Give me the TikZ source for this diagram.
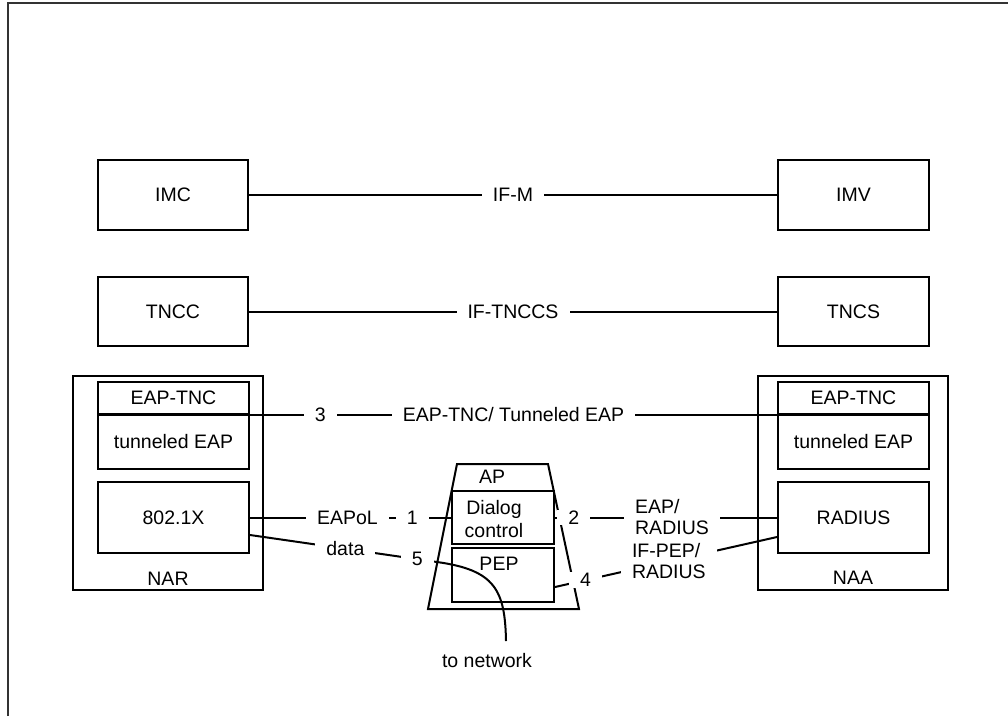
\documentclass[tikz,border=0pt]{standalone}
\usepackage{fontspec}
\setmainfont{Liberation Sans}
\begin{document}
\begin{tikzpicture}[x=1pt,y=-1pt,
  every node/.style={font=\fontsize{19.5}{21}\selectfont},
  box/.style={draw, line width=2pt, rectangle, inner sep=0pt},
  lbl/.style={fill=white, inner xsep=11pt, inner ysep=1pt},
  conn/.style={line width=2pt}
]
\useasboundingbox (0,0) rectangle (1008,716);
\draw[line width=2.4pt, black!80] (8,716) -- (8,3) -- (1008,3);

% top boxes
\node[box, minimum width=150pt, minimum height=70pt] (imc) at (173,195) {IMC};
\node[box, minimum width=151pt, minimum height=70pt] (imv) at (853.5,195) {IMV};
\node[box, minimum width=150pt, minimum height=69pt] (tncc) at (173,311.5) {TNCC};
\node[box, minimum width=151pt, minimum height=69pt] (tncs) at (853.5,311.5) {TNCS};

% NAR
\node[box, minimum width=190pt, minimum height=214pt] (nar) at (168,483) {};
\node (narl) at (168,579) {NAR};
\node[box, minimum width=151pt, minimum height=32pt] (eapL) at (173.5,398) {EAP-TNC};
\node[box, minimum width=151pt, minimum height=55pt] (tunL) at (173.5,441.5) {tunneled EAP};
\node[box, minimum width=151pt, minimum height=71pt] (dot1x) at (173.5,517.5) {802.1X};

% NAA
\node[box, minimum width=190pt, minimum height=214pt] (naa) at (853,483) {};
\node (naal) at (853,578) {NAA};
\node[box, minimum width=151pt, minimum height=32pt] (eapR) at (853.5,398) {EAP-TNC};
\node[box, minimum width=151pt, minimum height=55pt] (tunR) at (853.5,441.5) {tunneled EAP};
\node[box, minimum width=151pt, minimum height=71pt] (radius) at (853.5,517.5) {RADIUS};

% AP
\draw[line width=2pt] (457,464) -- (548,464) -- (579,609) -- (428,609) -- cycle;
\node (apl) at (492,477) {AP};
\node[box, minimum width=102pt, minimum height=53pt] (dialog) at (503,517.5) {};
\node[align=center, font=\fontsize{19.5}{23.5}\selectfont] (dialogl) at (494,519) {Dialog\\control};
\node[box, minimum width=102pt, minimum height=54pt] (pep) at (503,575) {};
\node (pepl) at (499,564) {PEP};

\node (tonet) at (487,661) {to network};
\coordinate (apedge) at (437,562);
\coordinate (netend) at (506,641);

% connectors
\draw[conn] (imc.east) -- node[lbl, pos=0.5] {IF-M} (imv.west);
\draw[conn] (tncc.east) -- node[lbl, pos=0.5] {IF-TNCCS} (tncs.west);
\draw[conn] (eapL.south west) -- node[lbl, pos=0.268] {3}
  node[lbl, pos=0.5] {EAP-TNC/ Tunneled EAP} (eapR.south east);
\draw[conn] (dot1x.east) -- node[lbl, pos=0.485] {EAPoL}
  node[lbl, pos=0.808] {1} (dialog.west);
\draw[conn] (dialog.east) -- node[lbl, pos=0.085] {2}
  node[lbl, pos=0.527, align=left] {EAP/\\RADIUS} (radius.west);
\draw[conn] ([yshift=-12pt]pep.east) -- node[lbl, pos=0.138] {4}
  node[lbl, pos=0.513, align=left] {IF-PEP/\\RADIUS} ([yshift=-19.5pt]radius.west);
\draw[conn] ([yshift=-17.5pt]dot1x.east) -- node[lbl, pos=0.51] {data}
  node[lbl, pos=0.894] {5} (apedge)
  .. controls (495,570) and (505,590) .. (netend);
\end{tikzpicture}
\end{document}
